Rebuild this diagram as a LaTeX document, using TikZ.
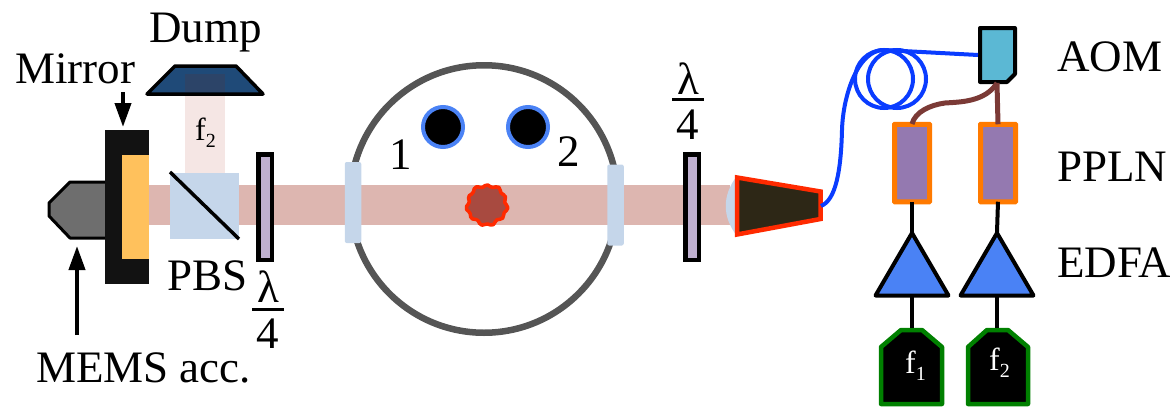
\documentclass[tikz,border=0pt]{standalone}
\usepackage{fontspec}
\setmainfont{Liberation Serif}
\usetikzlibrary{arrows.meta}
\definecolor{beamc}{HTML}{DDB6B0}
\definecolor{dumpbeam}{HTML}{F5E6E4}
\definecolor{dumpc}{HTML}{1F4A78}
\definecolor{glassc}{HTML}{C5D6EA}
\definecolor{platec}{HTML}{BFB0D0}
\definecolor{ppnc}{HTML}{9479B0}
\definecolor{orangec}{HTML}{FF7A00}
\definecolor{ampc}{HTML}{4A82F5}
\definecolor{greenc}{HTML}{008000}
\definecolor{aomc}{HTML}{5BB8D4}
\definecolor{brownc}{HTML}{7B3A36}
\definecolor{fiberc}{HTML}{0A3CFF}
\definecolor{redc}{HTML}{FF2A00}
\definecolor{mirrorc}{HTML}{FFC15C}
\definecolor{ringc}{HTML}{555555}
\definecolor{cloudc}{HTML}{A84A40}
\definecolor{accc}{HTML}{6E6E6E}
\definecolor{collc}{HTML}{2D2716}
\definecolor{overlapc}{HTML}{2C4468}
\tikzset{
  lab/.style={font=\fontsize{45}{45}\selectfont, inner sep=0pt, anchor=base west, text=black},
  fr/.style={font=\fontsize{45}{45}\selectfont, inner sep=0pt, anchor=base, text=black},
  small/.style={font=\fontsize{32}{32}\selectfont, inner sep=0pt, anchor=base west},
  plate/.style={draw=black, line width=4.5pt, fill=platec, minimum width=13.5pt, minimum height=105.5pt, inner sep=0pt, outer sep=0pt},
  ppln/.style={draw=orangec, line width=5pt, fill=ppnc, rounded corners=0.5pt, minimum width=35pt, minimum height=77.5pt, inner sep=0pt, outer sep=0pt},
  window/.style={fill=glassc, rounded corners=2pt, minimum width=16.5pt, minimum height=81pt, inner sep=0pt},
  ion/.style={circle, draw=ampc, line width=4pt, fill=black, minimum size=40pt, inner sep=0pt, outer sep=0pt},
  wire/.style={draw=black, line width=4pt},
  rf/.style={draw=brownc, line width=5pt},
  fiber/.style={draw=fiberc, line width=4pt},
  amp/.style={draw=black, line width=4pt, fill=ampc, line join=round},
  src/.style={draw=greenc, line width=4.5pt, fill=black, line join=round},
  pointer/.style={draw=black, line width=4pt, -{Triangle[length=24pt,width=16pt]}},
  rulefr/.style={draw=black, line width=3pt},
}
\newcommand{\subf}[1]{f\raisebox{-.24em}{\fontsize{20}{20}\selectfont #1}}
\begin{document}
\begin{tikzpicture}[x=1pt,y=-1pt]
\useasboundingbox (0,0) rectangle (1170,407);
% beams
\fill[beamc] (149,185) rectangle (730,225);
\fill[dumpbeam] (185,94) rectangle (225,173);
% dump
\draw[line width=3.5pt, draw=black, fill=dumpc, line join=round] (147,94) -- (175,66) -- (236,66) -- (263,94) -- cycle;
\fill[overlapc] (185,74) rectangle (225,92);
% accelerometer and mirror
\draw[line width=3pt, fill=accc, line join=round] (105,182) -- (70,182) -- (49,203) -- (49,216) -- (70,238) -- (105,238);
\fill[black!93] (105,130) rectangle (149,284);
\fill[mirrorc] (122,155) rectangle (149,259);
% PBS
\fill[glassc] (170,173) rectangle (239,239);
\coordinate (pbsa) at (170,172);
\coordinate (pbsb) at (239,239);
\draw[line width=3.5pt] (pbsa) -- (pbsb);
\node[small] (f2lab) at (195,140) {\subf{2}};
% plates
\node[plate] (qw1) at (265,207) {};
\node[plate] (qw2) at (692,207) {};
% chamber
\node[circle, draw=ringc, line width=6.5pt, minimum size=267.5pt, inner sep=0pt, outer sep=0pt] (chamber) at (484,199) {};
\fill[beamc] (355,185) rectangle (615,225);
\node[window] (winl) at (353,202.5) {};
\node[window] (winr) at (615.5,205) {};
\node[ion] (ion1) at (443,127) {};
\node[ion] (ion2) at (528,127) {};
\draw[redc, line width=3.5pt, fill=cloudc, line join=round] plot[smooth cycle, domain=0:352, samples=45] ({487+(19.5+1.2*sin(11*\x)+.6*sin(5*\x))*cos(\x)},{205+(19.5+1.2*sin(11*\x)+.6*sin(5*\x))*sin(\x)});
% collimator
\draw[draw=none, fill=glassc] (737,176) .. controls (722,195) and (722,217) .. (737,236) -- cycle;
\draw[draw=redc, line width=4.5pt, fill=collc, line join=miter] (737,177.5) -- (820.5,191.5) -- (820.5,219) -- (737,234.5) -- cycle;
\coordinate (colltip) at (821,206);
% PPLN
\node[ppln] (p1) at (912,163) {};
\node[ppln] (p2) at (998,163) {};
% AOM
\draw[line width=4pt, fill=aomc, line join=round] (980,28) -- (1015,28) -- (1015,74) -- (1007,82) -- (980,82) -- cycle;
\coordinate (aomin) at (978,55);
\coordinate (aomout) at (997,83);
% fibre
\draw[fiber] (884,79) circle[radius=29];
\draw[fiber] (897,79) circle[radius=29];
\draw[fiber] (colltip) .. controls (836,200) and (841,170) .. (842,130) .. controls (843,95) and (858,50) .. (884,50) -- (aomin);
% RF
\draw[rf] (aomout) -- (p2.north);
\draw[rf] (aomout) .. controls (985,102) and (960,102) .. (945,103) .. controls (930,105) and (915,112) .. (912,124);
% EDFA
\draw[amp] (912,233) -- (948.5,295.5) -- (875.5,295.5) -- cycle;
\draw[amp] (997,233) -- (1033.5,295.5) -- (960.5,295.5) -- cycle;
\coordinate (a1t) at (912,232); \coordinate (a2t) at (997,232);
\coordinate (a1b) at (912,296); \coordinate (a2b) at (997,296);
\draw[src] (881,404) -- (881,347) -- (901,330) -- (922,330) -- (942,347) -- (942,404) -- cycle;
\draw[src] (968,404) -- (968,347) -- (987,330) -- (1008,330) -- (1028,347) -- (1028,404) -- cycle;
\coordinate (s1) at (912,328); \coordinate (s2) at (997,328);
\draw[wire] (p1.south) -- (a1t);
\draw[wire] (p2.south) -- (a2t);
\draw[wire] (a1b) -- (s1);
\draw[wire] (a2b) -- (s2);
\node[small, text=white, font=\fontsize{32}{32}\selectfont] (f1s) at (905,373) {\subf{1}};
\node[small, text=white, font=\fontsize{32}{32}\selectfont] (f2s) at (989,370) {\subf{2}};
% labels
\node[lab] (dump) at (149,42) {Dump};
\node[lab] (mirror) at (15,83) {Mirror};
\node[lab] (pbs) at (167,290) {PBS};
\node[lab] (mems) at (36,382) {MEMS acc.};
\node[lab] (one) at (389,169) {1};
\node[lab] (two) at (557,166) {2};
\node[lab] (aom) at (1057,71) {AOM};
\node[lab] (pp) at (1057,181) {PPLN};
\node[lab] (edfa) at (1057,277) {EDFA};
% arrows
\coordinate (mt) at (123,92); \coordinate (mh) at (123,127);
\coordinate (at) at (77,335); \coordinate (ah) at (77,246);
\draw[pointer] (mt) -- (mh);
\draw[pointer] (at) -- (ah);
% fractions
\node[fr] (l1) at (268,302) {λ};
\coordinate (r1a) at (252,309.5); \coordinate (r1b) at (284,309.5);
\draw[rulefr] (r1a) -- (r1b);
\node[fr] (n1) at (268,348) {4};
\node[fr] (l2) at (688,94) {λ};
\coordinate (r2a) at (672,99.5); \coordinate (r2b) at (704,99.5);
\draw[rulefr] (r2a) -- (r2b);
\node[fr] (n2) at (688,139) {4};
\end{tikzpicture}
\end{document}
